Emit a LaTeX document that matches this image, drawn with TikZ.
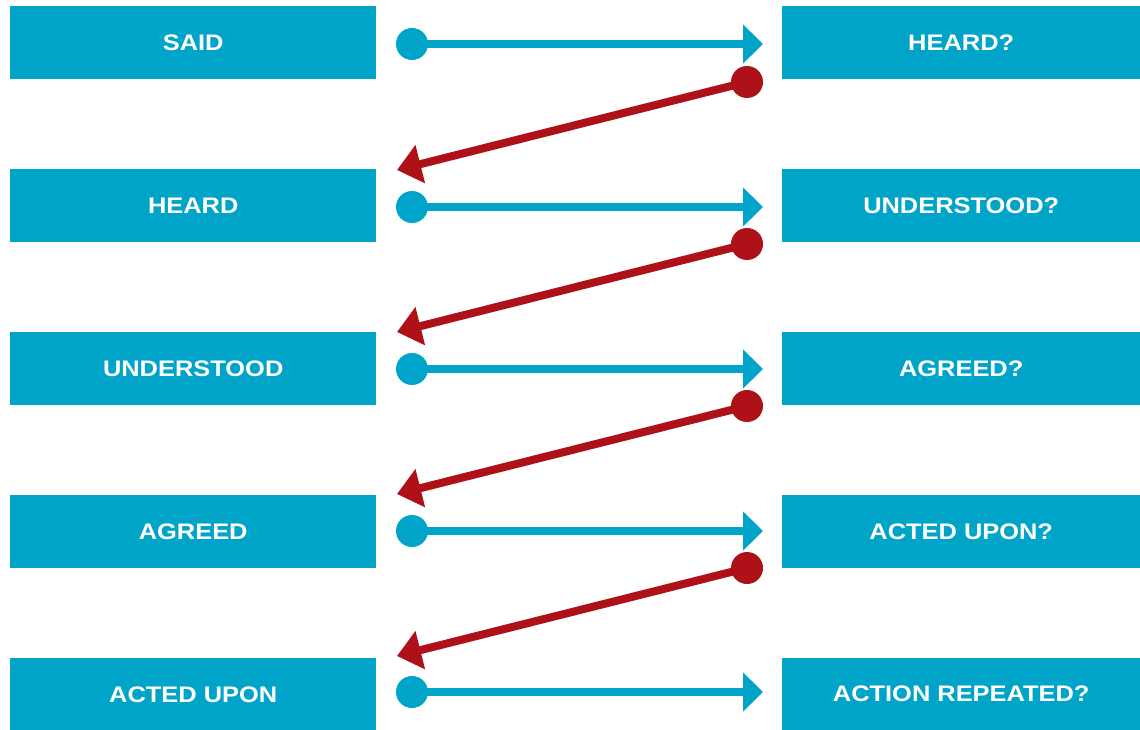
\documentclass[tikz,border=0pt]{standalone}
\usepackage{fontspec}
\setmainfont{Liberation Sans}[FakeStretch=1.13]
\usetikzlibrary{arrows.meta}
\definecolor{cblue}{HTML}{00A4C9}
\definecolor{cred}{HTML}{AE1118}
\tikzset{
  box/.style={fill=cblue, draw=none, inner sep=0pt, minimum height=73pt, anchor=north west,
    text=white, font=\bfseries\fontsize{22.5}{24}\selectfont},
  lbox/.style={box, minimum width=366pt},
  rbox/.style={box, minimum width=358pt},
  bdot/.style={circle, fill=cblue, inner sep=0pt, minimum size=32pt},
  rdot/.style={circle, fill=cred, inner sep=0pt, minimum size=32pt},
  barrow/.style={draw=cblue, line width=8pt, -{Triangle[length=20pt,width=38pt]}},
  rarrow/.style={draw=cred, line width=8pt, -{Triangle[length=24pt,width=38pt]}},
}
\begin{document}
\begin{tikzpicture}[x=1pt,y=-1pt]
\useasboundingbox (0,0) rectangle (1140,730);
% boxes
\node[lbox] (L1) at (10,6) {SAID};
\node[lbox] (L2) at (10,169) {HEARD};
\node[lbox] (L3) at (10,332) {UNDERSTOOD};
\node[lbox] (L4) at (10,495) {AGREED};
\node[lbox] (L5) at (10,658) {ACTED UPON};
\node[rbox] (R1) at (782,6) {HEARD?};
\node[rbox] (R2) at (782,169) {UNDERSTOOD?};
\node[rbox] (R3) at (782,332) {AGREED?};
\node[rbox] (R4) at (782,495) {ACTED UPON?};
\node[rbox, minimum height=72pt] (R5) at (782,658) {ACTION REPEATED?};
% blue arrows
\foreach \i/\y in {1/44,2/207,3/369,4/531,5/692}{
  \node[bdot] (b\i) at (412,\y) {};
  \coordinate (bt\i) at (763,\y);
  \draw[barrow] (b\i.center) -- (bt\i);
}
% red arrows
\foreach \i/\y in {1/82,2/244,3/406,4/568}{
  \node[rdot] (r\i) at (747,\y) {};
  \coordinate (rt\i) at (397,\y+88);
  \draw[rarrow] (r\i.center) -- (rt\i);
}
\end{tikzpicture}
\end{document}
